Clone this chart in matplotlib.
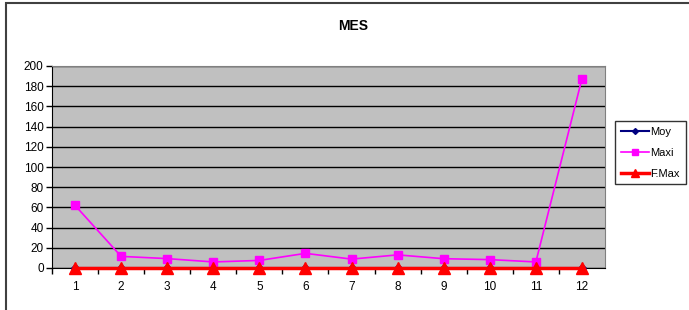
import matplotlib
matplotlib.use('Agg')
import matplotlib.pyplot as plt
from matplotlib.patches import Rectangle

plt.rcParams['font.family'] = ['Liberation Sans', 'DejaVu Sans']

# Data
months = [1, 2, 3, 4, 5, 6, 7, 8, 9, 10, 11, 12]
moy = [0, 0, 0, 0, 0, 0, 0, 0, 0, 0, 0, 0]
maxi = [62, 11.5, 9.3, 6, 7.5, 14.5, 8.8, 13, 9.2, 8.3, 6, 187.5]
fmax = [0, 0, 0, 0, 0, 0, 0, 0, 0, 0, 0, 0]

W, H = 689, 310
fig = plt.figure(figsize=(W / 100, H / 100), dpi=100)
ax = fig.add_axes([52 / W, 1 - 268 / H, (605 - 52) / W, (268 - 66) / H])
ax.set_facecolor('#C0C0C0')

# Series
ax.plot(months, moy, color='#000080', marker='D', markersize=4, lw=1.5, label='Moy', clip_on=False, zorder=3)
ax.plot(months, maxi, color='#FF00FF', marker='s', markersize=6, lw=1.2, label='Maxi', clip_on=False, zorder=4)
ax.plot(months, fmax, color='#FF0000', marker='^', markersize=8, lw=2.5, label='F.Max', clip_on=False, zorder=5)

# Axes
ax.set_xlim(0.5, 12.5)
ax.set_ylim(0, 200)
ax.set_yticks(range(0, 201, 20))
ax.yaxis.grid(True, color='black', lw=1)
ax.set_axisbelow(True)
ax.set_xticks([m + 0.5 for m in months[:-1]] + [0.5])
ax.set_xticklabels([])
ax.set_xticks(months, minor=True)
ax.set_xticklabels([str(m) for m in months], minor=True)
ax.tick_params(axis='x', which='minor', length=0, pad=9, labelsize=8.5)
ax.tick_params(axis='x', which='major', length=4, width=1, direction='out', color='black')
ax.tick_params(axis='y', length=4, width=1, direction='out', labelsize=8.5, pad=2)
for s in ['top', 'right']:
    ax.spines[s].set_color('#808080')
for s in ['left', 'bottom']:
    ax.spines[s].set_color('black')

# Title
fig.text(353 / W, 1 - 26 / H, 'MES', ha='center', va='center', fontsize=10, fontweight='bold')

# Legend
leg = fig.legend(loc='upper left', bbox_to_anchor=(615 / W, 1 - 121 / H), fontsize=8,
                 frameon=True, fancybox=False, edgecolor='black', borderpad=0.5,
                 labelspacing=1.0, handlelength=2.6, handletextpad=0.1, borderaxespad=0,
                 markerscale=0.75)
leg.get_frame().set_linewidth(1)

# Outer chart border
fig.patches.append(Rectangle((6 / W, -0.1), 1.2, 1.1 - 3 / H, transform=fig.transFigure,
                             fill=False, edgecolor='#404040', lw=1.5, clip_on=False))

fig.savefig('out.png', dpi=100)
